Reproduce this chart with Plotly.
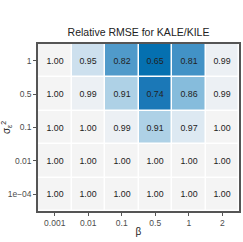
import plotly.graph_objects as go

beta = ["0.001", "0.01", "0.1", "0.5", "1", "2"]
sigma = ["1e\u221204", "0.01", "0.1", "0.5", "1"]
# rows correspond to sigma (bottom to top)
z = [
    [1.00, 1.00, 1.00, 1.00, 1.00, 1.00],
    [1.00, 1.00, 1.00, 1.00, 1.00, 1.00],
    [1.00, 1.00, 0.99, 0.91, 0.97, 1.00],
    [1.00, 0.99, 0.91, 0.74, 0.86, 0.99],
    [1.00, 0.95, 0.82, 0.65, 0.81, 0.99],
]

zmin, zmax = 0.65, 1.00
def n(v):
    return (v - zmin) / (zmax - zmin)

colorscale = [
    [n(0.65), "#0570b0"],
    [n(0.74), "#1b78b7"],
    [n(0.81), "#4292c6"],
    [n(0.86), "#86bcdc"],
    [n(0.91), "#aed1e6"],
    [n(0.95), "#cde0ee"],
    [n(0.97), "#dde9f2"],
    [n(0.99), "#ecf0f4"],
    [n(1.00), "#f4f4f4"],
]

text = [[f"{v:.2f}" for v in row] for row in z]

fig = go.Figure(go.Heatmap(
    x=beta, y=sigma, z=z, zmin=zmin, zmax=zmax,
    colorscale=colorscale, showscale=False,
    xgap=1.5, ygap=1.5,
    text=text, texttemplate="%{text}",
    textfont=dict(size=8.8, color="#222222", family="Liberation Sans, Arial"),
    hoverinfo="skip",
))

fig.update_layout(
    width=243, height=242,
    margin=dict(l=38, r=4, t=44, b=31),
    paper_bgcolor="white", plot_bgcolor="white",
    title=dict(text="Relative RMSE for KALE/KILE", x=(38 + 239) / 2 / 243, xanchor="center",
               y=1 - 32/242, yanchor="middle",
               font=dict(size=10.5, color="#222222", family="Liberation Sans, Arial")),
    font=dict(family="Liberation Sans, Arial", color="#4d4d4d", size=8.5),
)
fig.update_xaxes(
    type="category", showgrid=False, zeroline=False, automargin=False,
    ticks="outside", ticklen=3, tickcolor="#555555",
    tickfont=dict(size=8.5, color="#4d4d4d"),
    title=dict(text="β", font=dict(size=10, color="#222222"), standoff=1),
    showline=True, linecolor="#555555", linewidth=1.5, mirror=True,
)
fig.update_yaxes(
    type="category", showgrid=False, zeroline=False, automargin=False,
    ticks="outside", ticklen=3, tickcolor="#555555",
    tickfont=dict(size=8.5, color="#4d4d4d"),
    title=dict(text="σ<sub>ε</sub><sup>2</sup>", font=dict(size=10, color="#222222"), standoff=2),
    showline=True, linecolor="#555555", linewidth=1.5, mirror=True,
)

fig.write_html("out.html", config={"displayModeBar": False},
               post_script="document.body.style.margin='0';")
